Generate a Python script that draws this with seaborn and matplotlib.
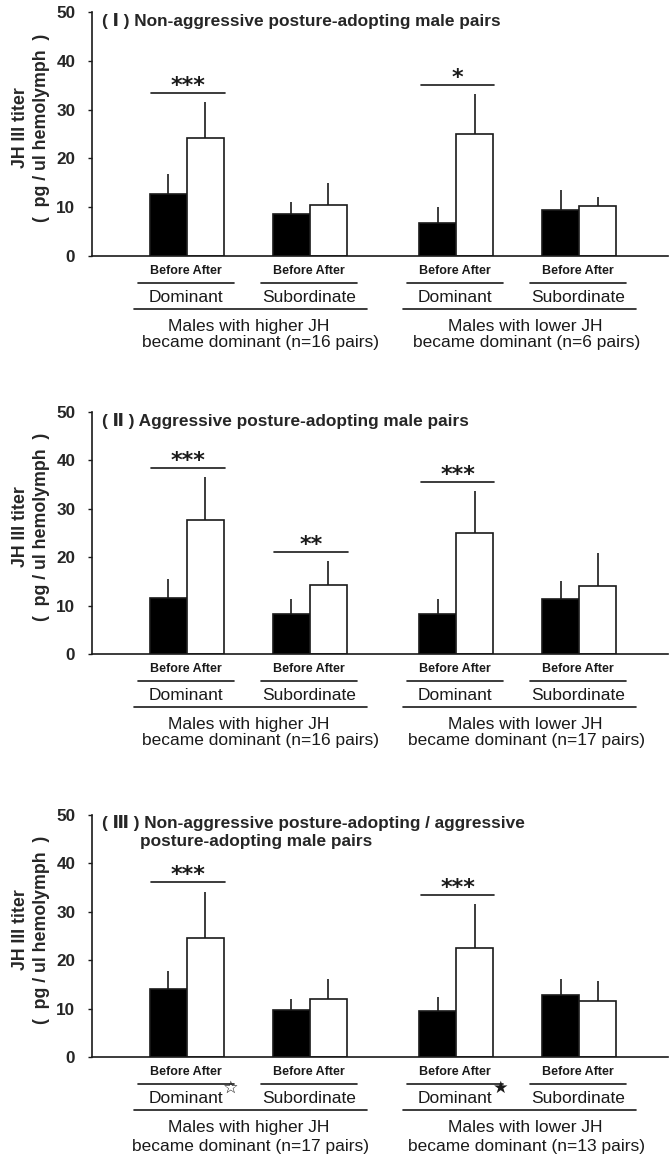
import numpy as np
import pandas as pd
import matplotlib.pyplot as plt
import seaborn as sns
from matplotlib.transforms import blended_transform_factory, ScaledTranslation

sns.set_style("ticks")
plt.rcParams['font.family'] = ['Liberation Sans', 'DejaVu Sans']

# ---- data ----
groups = ['Dominant', 'Subordinate', 'Dominant', 'Subordinate']
phases = ['Before', 'After']

# (I) non-aggressive posture-adopting pairs
p1_before = [12.7, 8.6, 6.7, 9.4]
p1_before_se = [4.1, 2.5, 3.4, 4.1]
p1_after = [24.2, 10.4, 25.0, 10.2]
p1_after_se = [7.4, 4.6, 8.2, 1.9]
p1_sig = [(0, '***', 33.4), (2, '*', 35.0)]
p1_n = [16, 6]

# (II) aggressive posture-adopting pairs
p2_before = [11.6, 8.3, 8.3, 11.4]
p2_before_se = [3.9, 3.1, 3.1, 3.7]
p2_after = [27.7, 14.3, 25.0, 14.0]
p2_after_se = [8.9, 4.9, 8.7, 6.8]
p2_sig = [(0, '***', 38.4), (1, '**', 21.1), (2, '***', 35.5)]
p2_n = [16, 17]

# (III) mixed pairs
p3_before = [14.0, 9.7, 9.5, 12.8]
p3_before_se = [3.8, 2.3, 2.9, 3.3]
p3_after = [24.6, 12.0, 22.5, 11.6]
p3_after_se = [9.5, 4.1, 9.1, 4.1]
p3_sig = [(0, '***', 36.2), (2, '***', 33.5)]
p3_n = [17, 13]

titles = [
    ['( Ⅰ ) Non-aggressive posture-adopting male pairs'],
    ['( Ⅱ ) Aggressive posture-adopting male pairs'],
    ['( Ⅲ ) Non-aggressive posture-adopting / aggressive',
     'posture-adopting male pairs'],
]
marks = [['', '', '', ''], ['', '', '', ''], ['☆', '', '★', '']]

panels = [
    (p1_before, p1_before_se, p1_after, p1_after_se, p1_sig, p1_n),
    (p2_before, p2_before_se, p2_after, p2_after_se, p2_sig, p2_n),
    (p3_before, p3_before_se, p3_after, p3_after_se, p3_sig, p3_n),
]

# layout
group_x = [0, 1, 2.19, 3.19]
ax_rects = [
    [0.1375, 0.7787, 0.861, 0.2109],
    [0.1375, 0.4347, 0.861, 0.2092],
    [0.1375, 0.0864, 0.861, 0.2092],
]
dark = '#1a1a1a'

fig = plt.figure(figsize=(6.69, 11.57), dpi=100)


def off(ax, dx, dy):
    # data x, axes y, then a shift in pixels (dpi 100)
    return (blended_transform_factory(ax.transData, ax.transAxes)
            + ScaledTranslation(dx / 100, -dy / 100, fig.dpi_scale_trans))


for k, (before, before_se, after, after_se, sig, n_pairs) in enumerate(panels):
    ax = fig.add_axes(ax_rects[k])
    df = pd.DataFrame({
        'x': group_x * 2,
        'phase': ['Before'] * 4 + ['After'] * 4,
        'titer': before + after,
    })
    sns.barplot(data=df, x='x', y='titer', hue='phase', hue_order=phases,
                native_scale=True, width=0.6, errorbar=None, legend=False,
                palette={'Before': 'black', 'After': 'white'},
                edgecolor=dark, linewidth=1.2, ax=ax)

    # one-sided error bars (SE)
    for cont, se in zip(ax.containers, [before_se, after_se]):
        for bar, s in zip(cont, se):
            cx = bar.get_x() + bar.get_width() / 2
            h = bar.get_height()
            ax.vlines(cx, h, h + s, color=dark, lw=1.2, zorder=3)

    ax.set_xlim(-0.772, 3.911)
    ax.set_ylim(0, 50)
    ax.set_yticks([0, 10, 20, 30, 40, 50])
    ax.set_xticks([])
    ax.set_xlabel('')
    ax.set_ylabel('')
    sns.despine(ax=ax)
    for sp in ['left', 'bottom']:
        ax.spines[sp].set_linewidth(1.2)
        ax.spines[sp].set_color(dark)
    ax.tick_params(axis='y', length=3, width=1, pad=9, labelsize=12.3, color=dark)
    for tl in ax.get_yticklabels():
        tl.set_fontweight('bold')

    ax.text(-0.106, 0.527, 'JH III titer\n(  pg / ul hemolymph  )', rotation=90,
            transform=ax.transAxes, ha='center', va='center',
            multialignment='center', fontsize=12.8, fontweight='bold',
            linespacing=1.3)

    # title inside the axes
    tl_y = [9] if len(titles[k]) == 1 else [8, 27]
    tl_x = [0.0174, 0.0833]
    for i, line in enumerate(titles[k]):
        ax.text(tl_x[i], 1, line, fontsize=12.4, fontweight='bold',
                va='center', ha='left',
                transform=ax.transAxes + ScaledTranslation(0, -tl_y[i] / 100, fig.dpi_scale_trans))

    # significance brackets
    for gi, stars, yv in sig:
        gx = group_x[gi]
        ax.plot([gx - 0.29, gx + 0.31], [yv, yv], color=dark, lw=1.2)
        ax.text(gx + 0.01, yv, stars, ha='center', va='baseline', fontsize=16,
                family='DejaVu Sans', fontweight='bold', color=dark,
                transform=ax.transData + ScaledTranslation(0, 1 / 100, fig.dpi_scale_trans))

    # category labels under the axis
    for gi, gx in enumerate(group_x):
        ax.text(gx, 0, 'Before After', ha='center', va='center', fontsize=9,
                fontweight='bold', transform=off(ax, -1, 15), color=dark)
        ax.plot([gx - 0.40, gx + 0.38], [0, 0], color=dark, lw=1.2,
                transform=off(ax, 0, 27), clip_on=False)
        t = ax.text(gx, 0, groups[gi], ha='center', va='center', fontsize=12.5,
                    transform=off(ax, -1, 41), color=dark)
        if marks[k][gi]:
            ax.annotate(marks[k][gi], xy=(1.0, 0.6), xycoords=t,
                        ha='left', va='bottom', fontsize=12.5,
                        family='DejaVu Sans', color=dark)

    for pi, word in enumerate(['higher', 'lower']):
        g0 = group_x[2 * pi]
        g1 = group_x[2 * pi + 1]
        mid = (g0 + g1) / 2
        shift = 0 if pi == 0 else 7
        ax.plot([g0 - 0.43, g1 + 0.46], [0, 0], color=dark, lw=1.2,
                transform=off(ax, 0, 53), clip_on=False)
        ax.text(mid, 0, f'Males with {word} JH', ha='center', va='center',
                fontsize=12.5, transform=off(ax, shift, 70), color=dark)
        shift2 = shift + (12 if (pi == 0 and k < 2) else 2)
        ax.text(mid, 0, f'became dominant (n={n_pairs[pi]} pairs)', ha='center',
                va='center', fontsize=12.5, transform=off(ax, shift2, 86 + (3 if k == 2 else 0)),
                color=dark)

fig.savefig('out.png', dpi=100)
